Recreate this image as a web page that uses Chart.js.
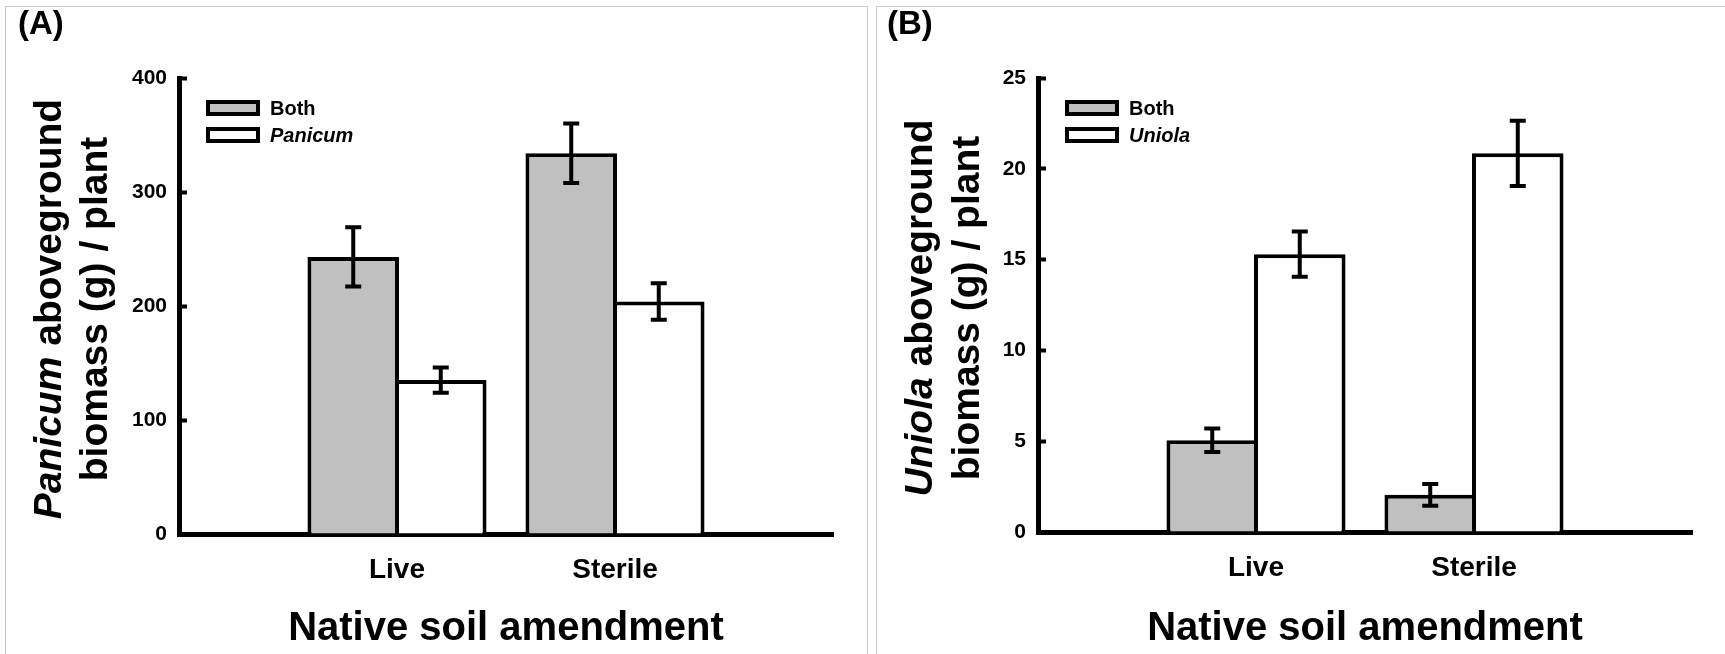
<!DOCTYPE html>
<html>
<head>
<meta charset="utf-8">
<title>Native soil amendment biomass</title>
<script src="https://cdn.jsdelivr.net/npm/chart.js@4.4.0/dist/chart.umd.min.js"></script>
<style>
  html, body { margin: 0; padding: 0; background: #fff; overflow: hidden; }
  body { width: 1725px; height: 654px; position: relative; }
  .frame { position: absolute; border: 1px solid #c8c8c8; box-sizing: border-box; }
  #frameA { left: 5px; top: 6px; width: 863px; height: 700px; }
  #frameB { left: 876px; top: 6px; width: 900px; height: 700px; }
  canvas { position: absolute; top: 0; }
  #chartA { left: 0; }
  #chartB { left: 860px; }
</style>
</head>
<body>
<div class="frame" id="frameA"></div>
<div class="frame" id="frameB"></div>
<canvas id="chartA" width="870" height="654"></canvas>
<canvas id="chartB" width="865" height="654"></canvas>
<script>
// data (mean +/- error)
const categories = ['Live', 'Sterile'];

const bothA = [243, 334];
const bothErrA = [26, 26];
const panicumA = [135, 204];
const panicumErrA = [11, 16];
const yTicksA = [0, 100, 200, 300, 400];

const bothB = [5.05, 2.05];
const bothErrB = [0.65, 0.6];
const uniolaB = [15.3, 20.85];
const uniolaErrB = [1.25, 1.8];
const yTicksB = [0, 5, 10, 15, 20, 25];

const FAMILY = "'Liberation Sans', Arial, Helvetica, sans-serif";
Chart.defaults.font.family = FAMILY;
Chart.defaults.color = '#000';

// empty slot on each side so Live / Sterile sit at 1/3 and 2/3 of the axis
const pad = arr => [null, ...arr, null];

// error bars, legend, panel letter and the mixed-style y title
const decor = {
    id: 'decor',
    afterDatasetsDraw(chart, args, opts) {
        const { ctx, scales: { y } } = chart;
        ctx.save();
        ctx.strokeStyle = '#000';
        ctx.lineWidth = 4;
        chart.data.datasets.forEach((ds, di) => {
            const meta = chart.getDatasetMeta(di);
            meta.data.forEach((bar, i) => {
                const v = ds.data[i], e = ds.errors[i];
                if (v == null || e == null) return;
                const hi = y.getPixelForValue(v + e), lo = y.getPixelForValue(v - e);
                ctx.beginPath();
                ctx.moveTo(bar.x, hi); ctx.lineTo(bar.x, lo);
                ctx.moveTo(bar.x - 8, hi); ctx.lineTo(bar.x + 8, hi);
                ctx.moveTo(bar.x - 8, lo); ctx.lineTo(bar.x + 8, lo);
                ctx.stroke();
            });
        });
        ctx.restore();
    },
    afterDraw(chart, args, opts) {
        const { ctx, chartArea: ca } = chart;
        ctx.save();

        // legend
        chart.data.datasets.forEach((ds, di) => {
            const bx = ca.left + 27, by = ca.top + 22 + di * 27;
            ctx.fillStyle = ds.backgroundColor;
            ctx.fillRect(bx, by, 54, 16);
            ctx.lineWidth = 4;
            ctx.strokeStyle = '#000';
            ctx.strokeRect(bx + 2, by + 2, 50, 12);
            ctx.fillStyle = '#000';
            ctx.font = (ds.italic ? 'italic ' : '') + 'bold 20px ' + FAMILY;
            ctx.textAlign = 'left';
            ctx.textBaseline = 'middle';
            ctx.fillText(ds.label, ca.left + 91, by + 9);
        });

        // panel letter
        ctx.font = 'bold 33px ' + FAMILY;
        ctx.textAlign = 'left';
        ctx.textBaseline = 'alphabetic';
        ctx.fillText(opts.letter, opts.letterX, 34);

        // y title, two lines, first word italic
        const cy = (ca.top + ca.bottom) / 2 + 3;
        opts.yTitle.forEach((line, li) => {
            const widths = line.map(([t, it]) => {
                ctx.font = (it ? 'italic ' : '') + 'bold 39px ' + FAMILY;
                return ctx.measureText(t).width;
            });
            const total = widths.reduce((a, b) => a + b, 0);
            ctx.save();
            ctx.translate(ca.left + opts.yTitleX[li], cy);
            ctx.rotate(-Math.PI / 2);
            let x = -total / 2;
            line.forEach(([t, it], k) => {
                ctx.font = (it ? 'italic ' : '') + 'bold 39px ' + FAMILY;
                ctx.fillText(t, x, 0);
                x += widths[k];
            });
            ctx.restore();
        });
        ctx.restore();
    }
};

function makeChart(id, p) {
    return new Chart(document.getElementById(id), {
        type: 'bar',
        data: {
            labels: ['', ...categories, ''],
            datasets: [
                {
                    label: 'Both', data: pad(p.both), errors: pad(p.bothErr),
                    backgroundColor: '#c0c0c0', borderColor: '#000', borderWidth: 4
                },
                {
                    label: p.name, italic: true, data: pad(p.solo), errors: pad(p.soloErr),
                    backgroundColor: '#ffffff', borderColor: '#000', borderWidth: 4
                }
            ]
        },
        options: {
            responsive: false,
            devicePixelRatio: 1,
            animation: false,
            layout: { padding: { left: 0, top: p.top, right: p.right, bottom: 0 } },
            // bars a touch wider than their slot so neighbours share one border line
            datasets: { bar: { categoryPercentage: 0.803, barPercentage: 1.046 } },
            plugins: {
                legend: { display: false },
                tooltip: { enabled: false },
                decor: { letter: p.letter, letterX: p.letterX, yTitle: p.yTitle, yTitleX: p.yTitleX }
            },
            scales: {
                x: {
                    offset: false,
                    grid: { display: false, drawTicks: false },
                    border: { display: true, width: 5, color: '#000' },
                    ticks: { padding: 19, font: { size: 28, weight: 'bold' }, color: '#000', autoSkip: false, maxRotation: 0 },
                    title: {
                        display: true, text: 'Native soil amendment', color: '#000',
                        font: { size: 40, weight: 'bold' }, padding: { top: 0, bottom: 1 }
                    },
                    afterFit: s => { s.height = p.xHeight; }
                },
                y: {
                    min: p.yTicks[0],
                    max: p.yTicks[p.yTicks.length - 1],
                    afterBuildTicks: s => { s.ticks = p.yTicks.map(v => ({ value: v })); },
                    grid: { display: true, drawOnChartArea: false, drawTicks: true, tickLength: -8, tickWidth: 4, color: '#000' },
                    border: { display: true, width: 5, color: '#000' },
                    ticks: { padding: 20, font: { size: 21, weight: 'bold' }, color: '#000' },
                    afterFit: s => { s.width = p.yWidth; }
                }
            }
        },
        plugins: [decor]
    });
}

makeChart('chartA', {
    name: 'Panicum', both: bothA, bothErr: bothErrA, solo: panicumA, soloErr: panicumErrA,
    yTicks: yTicksA, top: 78, right: 37, xHeight: 120, yWidth: 179,
    letter: '(A)', letterX: 18,
    yTitle: [[['Panicum', true], [' aboveground', false]], [['biomass (g) / plant', false]]],
    yTitleX: [-118, -72]
});

makeChart('chartB', {
    name: 'Uniola', both: bothB, bothErr: bothErrB, solo: uniolaB, soloErr: uniolaErrB,
    yTicks: yTicksB, top: 78, right: 33, xHeight: 122, yWidth: 178,
    letter: '(B)', letterX: 27,
    yTitle: [[['Uniola', true], [' aboveground', false]], [['biomass (g) / plant', false]]],
    yTitleX: [-106, -59]
});
</script>
</body>
</html>
